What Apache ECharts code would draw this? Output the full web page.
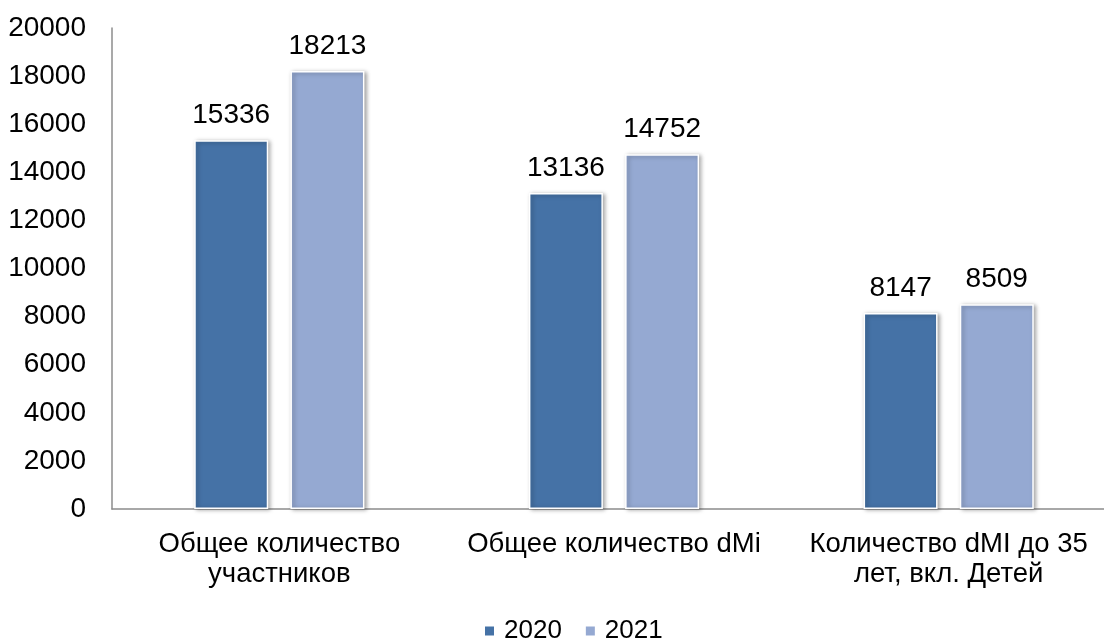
<!DOCTYPE html>
<html>
<head>
<meta charset="utf-8">
<script src="https://cdn.jsdelivr.net/npm/echarts@6/dist/echarts.min.js"></script>
<style>
  html, body { margin: 0; padding: 0; background: #fff; }
  #chart { width: 1104px; height: 644px; }
</style>
</head>
<body>
<div id="chart"></div>
<script>
// категории и значения
const categories = ['Общее количество\nучастников', 'Общее количество dMi', 'Количество dMI до 35\nлет, вкл. Детей'];
const values2020 = [15336, 13136, 8147];
const values2021 = [18213, 14752, 8509];
const seriesNames = ['2020', '2021'];

const chart = echarts.init(document.getElementById('chart'), null, { renderer: 'canvas' });
const font = 'Liberation Sans, Arial, sans-serif';

function barItem(color) {
  return {
    color: color,
    borderColor: '#fff',
    borderWidth: 1.5,
    shadowColor: 'rgba(0,0,0,0.35)',
    shadowBlur: 4,
    shadowOffsetX: 2,
    shadowOffsetY: 1
  };
}

const option = {
  backgroundColor: '#fff',
  animation: false,
  textStyle: { fontFamily: font, color: '#000' },
  grid: { left: 112, top: 28, width: 1004, height: 481, containLabel: false, outerBoundsMode: 'none' },
  legend: {
    top: 618,
    left: 483,
    padding: 0,
    itemWidth: 11,
    itemHeight: 11,
    itemGap: 22,
    icon: 'rect',
    textStyle: { fontSize: 26, color: '#000', fontFamily: font, padding: [0, 0, 0, 4] },
    data: seriesNames
  },
  xAxis: {
    type: 'category',
    data: categories,
    axisLine: { lineStyle: { color: '#8c8c8c', width: 1.5 } },
    axisTick: { show: false },
    axisLabel: { fontSize: 27.5, color: '#000', lineHeight: 30, margin: 20, interval: 0, fontFamily: font }
  },
  yAxis: {
    type: 'value',
    min: 0,
    max: 20000,
    interval: 2000,
    axisLine: { show: true, lineStyle: { color: '#8c8c8c', width: 1.5 } },
    axisTick: { show: false },
    splitLine: { show: false },
    axisLabel: { fontSize: 28, color: '#000', margin: 26, fontFamily: font, formatter: v => String(v) }
  },
  series: [
    {
      name: seriesNames[0],
      type: 'bar',
      data: values2020,
      barWidth: 74,
      barGap: '30%',
      itemStyle: barItem('#4572a6'),
      label: { show: true, position: 'top', distance: 11, fontSize: 28, color: '#000', fontFamily: font }
    },
    {
      name: seriesNames[1],
      type: 'bar',
      data: values2021,
      barWidth: 74,
      itemStyle: barItem('#95a9d2'),
      label: { show: true, position: 'top', distance: 11, fontSize: 28, color: '#000', fontFamily: font }
    }
  ]
};

chart.setOption(option);
</script>
</body>
</html>
